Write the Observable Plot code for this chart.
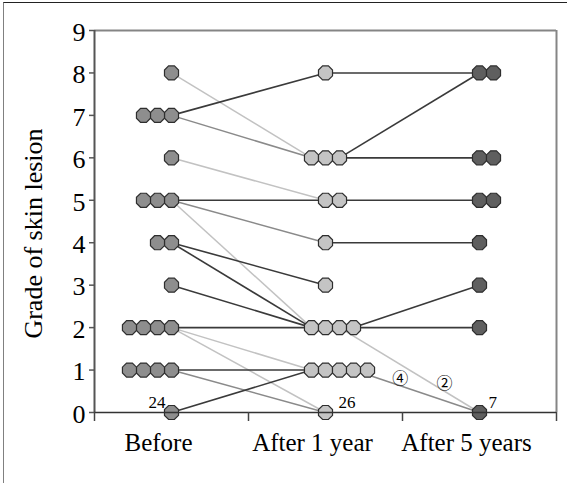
<!DOCTYPE html>
<html>
<head>
<meta charset="utf-8">
<script src="https://cdn.jsdelivr.net/npm/d3@7"></script>
<script src="https://cdn.jsdelivr.net/npm/@observablehq/plot@0.6"></script>
<style>
  html, body { margin: 0; padding: 0; background: #fff; }
  #wrap { position: relative; width: 567px; height: 483px; overflow: hidden; }
  #chart { position: absolute; left: 0; top: 0; }
  #border { position: absolute; left: 3px; top: 2px; width: 570px; height: 490px;
            border-top: 1px solid #222; border-left: 1.6px solid #808080; pointer-events: none; }
  #chart svg text { font-family: 'Liberation Serif', 'Times New Roman', serif; }
  #chart svg text.circ, #chart svg .circ text { font-family: 'Noto Sans CJK JP', 'DejaVu Sans', sans-serif; }
</style>
</head>
<body>
<div id="wrap"><div id="chart"></div><div id="border"></div></div>
<script>
// ---- data ----
const columns = ["Before", "After 1 year", "After 5 years"];
const yTicks = [0, 1, 2, 3, 4, 5, 6, 7, 8, 9];

const beforeGrades = [8, 7, 6, 5, 4, 3, 2, 1, 0];
const beforeCounts = [1, 3, 1, 3, 2, 1, 4, 4, 1];

const year1Grades = [8, 6, 5, 4, 3, 2, 1, 0];
const year1Counts = [1, 3, 2, 1, 1, 4, 5, 1];
const year1FirstSlot = [0, -1, 0, 0, 0, -1, -1, 0];

const year5Grades = [8, 6, 5, 4, 3, 2, 0];
const year5Counts = [2, 2, 2, 1, 1, 1, 1];

const totals = [24, 26, 7];

// before grade -> 1-year grade, line tone
const firstLinks = [
  [8, 6, "light"], [7, 8, "dark"], [7, 6, "mid"], [6, 5, "light"],
  [5, 5, "dark"], [5, 4, "mid"], [5, 2, "light"], [4, 3, "dark"],
  [4, 2, "dark"], [3, 2, "dark"], [2, 2, "dark"], [2, 1, "light"],
  [2, 0, "light"], [1, 1, "dark"], [1, 0, "mid"], [0, 1, "dark"]
];
// 1-year grade -> 5-year grade, line tone, patient slot in 1-year cluster, count label
const secondLinks = [
  [8, 8, "dark", 0, ""], [6, 8, "dark", 1, ""], [6, 6, "dark", 0, ""],
  [5, 5, "dark", 0, ""], [4, 4, "dark", 0, ""], [2, 3, "dark", 2, ""],
  [2, 2, "dark", 0, ""], [2, 0, "light", 1, "②"], [1, 0, "mid", 2, "④"]
];

// ---- derived ----
const STEP = 0.091;
const markers = [];
beforeGrades.forEach((g, i) => { for (let k = 0; k < beforeCounts[i]; k++) markers.push({col: 0, grade: g, slot: -k}); });
year1Grades.forEach((g, i) => { for (let k = 0; k < year1Counts[i]; k++) markers.push({col: 1, grade: g, slot: year1FirstSlot[i] + k}); });
year5Grades.forEach((g, i) => { for (let k = 0; k < year5Counts[i]; k++) markers.push({col: 2, grade: g, slot: k}); });
markers.forEach(d => d.x = d.col + 0.5 + d.slot * STEP);

const y1Start = g => year1FirstSlot[year1Grades.indexOf(g)];
const links = [
  ...firstLinks.map(([a, b, tone]) => ({x1: 0.5, y1: a, x2: 1.5 + y1Start(b) * STEP, y2: b, tone, label: ""})),
  ...secondLinks.map(([a, b, tone, slot, label]) => ({x1: 1.5 + slot * STEP, y1: a, x2: 2.5, y2: b, tone, label}))
];
const labelT = {"②": 0.75, "④": 0.37};
const linkLabels = links.filter(d => d.label).map(d => {
  const t = labelT[d.label];
  return {label: d.label, x: d.x1 + t * (d.x2 - d.x1), y: d.y1 + t * (d.y2 - d.y1)};
});

const toneColor = {light: "#c2c2c2", mid: "#8a8a8a", dark: "#3a3a3a"};
const colFill = ["#8e8e8e", "#c4c4c4", "#5f5f5f"];

const octagon = {
  draw(context, size) {
    const r = Math.sqrt(size / Math.PI);
    for (let i = 0; i < 8; i++) {
      const a = Math.PI / 8 + i * Math.PI / 4;
      const px = r * Math.cos(a), py = r * Math.sin(a);
      if (i) context.lineTo(px, py); else context.moveTo(px, py);
    }
    context.closePath();
  }
};

const serif = "Liberation Serif";

const chart = Plot.plot({
  width: 567,
  height: 483,
  marginLeft: 94,
  marginRight: 11,
  marginTop: 30,
  marginBottom: 71,
  style: {fontFamily: serif, fontSize: "25px", color: "#000", background: "transparent", overflow: "visible"},
  x: {domain: [0, 3]},
  y: {domain: [0, 9]},
  marks: [
    // frame (top and right)
    Plot.ruleY([9], {stroke: "#858585", strokeWidth: 2}),
    Plot.ruleX([3], {stroke: "#858585", strokeWidth: 2}),
    // links
    ...["light", "mid", "dark"].map(tone =>
      Plot.link(links.filter(d => d.tone === tone), {
        x1: "x1", y1: "y1", x2: "x2", y2: "y2",
        stroke: toneColor[tone], strokeWidth: tone === "dark" ? 1.6 : 1.5
      })
    ),
    // markers
    ...[0, 1, 2].map(c =>
      Plot.dot(markers.filter(d => d.col === c), {
        x: "x", y: "grade", r: 7.6, symbol: octagon,
        fill: colFill[c], stroke: "#2e2e2e", strokeWidth: 1.2
      })
    ),
    // axes
    Plot.ruleX([0], {stroke: "#555", strokeWidth: 2}),
    Plot.ruleY([0], {stroke: "#333", strokeWidth: 1.6}),
    Plot.axisY({ticks: yTicks, tickSize: 5, tickFormat: () => "", stroke: "#555", strokeWidth: 1.5, label: null}),
    Plot.axisY({ticks: yTicks, tickSize: 0, tickPadding: 9, tickFormat: d => String(d),
      fontSize: 26, fontFamily: serif, label: null, dy: 2}),
    Plot.axisX({ticks: [0, 1, 2, 3], tickSize: 9, tickFormat: () => "", stroke: "#444", strokeWidth: 1.5, label: null}),
    // category labels
    Plot.text(columns, {x: (d, i) => i + 0.5, frameAnchor: "bottom", dy: 38, dx: -13,
      text: d => d, fontSize: 25, fontFamily: serif, fill: "#000"}),
    // y axis title
    Plot.text(["Grade of skin lesion"], {frameAnchor: "left", textAnchor: "middle", dx: -61, dy: 12, rotate: -90,
      text: d => d, fontSize: 26, fontFamily: serif, fill: "#000"}),
    // totals
    Plot.text([totals[0]], {x: 0.5, y: 0, dx: -6, dy: -10, textAnchor: "end", text: d => String(d), fontSize: 17, fontFamily: serif, fill: "#000"}),
    Plot.text([totals[1]], {x: 1.5, y: 0, dx: 13, dy: -10, textAnchor: "start", text: d => String(d), fontSize: 17, fontFamily: serif, fill: "#000"}),
    Plot.text([totals[2]], {x: 2.5, y: 0, dx: 9, dy: -10, textAnchor: "start", text: d => String(d), fontSize: 17, fontFamily: serif, fill: "#000"}),
    // counts on converging lines
    Plot.text(linkLabels, {x: "x", y: "y", text: "label", dy: -7, fontSize: 16, className: "circ",
      fontFamily: "Noto Sans CJK JP", fill: "#000"})
  ]
});
document.getElementById("chart").appendChild(chart);
</script>
</body>
</html>
